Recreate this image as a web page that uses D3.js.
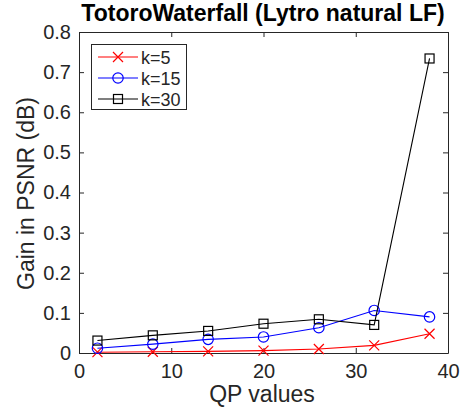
<!DOCTYPE html>
<html>
<head>
<meta charset="utf-8">
<script src="https://cdn.jsdelivr.net/npm/d3@7"></script>
<style>
  body { margin: 0; background: #fff; }
  text { font-family: "Liberation Sans", Arial, sans-serif; fill: #262626; }
</style>
</head>
<body>
<svg id="chart" width="463" height="411"></svg>
<script>
var qp = [2, 8, 14, 20, 26, 32, 38];
var k5 = [0.002, 0.003, 0.004, 0.006, 0.01, 0.019, 0.048];
var k15 = [0.012, 0.022, 0.034, 0.04, 0.063, 0.106, 0.09];
var k30 = [0.031, 0.044, 0.055, 0.073, 0.084, 0.07, 0.734];
var xTicks = [0, 10, 20, 30, 40];
var yTicks = [0, 0.1, 0.2, 0.3, 0.4, 0.5, 0.6, 0.7, 0.8];

var series = [
  { name: "k=5", values: k5, color: "#ff0000", marker: "x" },
  { name: "k=15", values: k15, color: "#0000ff", marker: "o" },
  { name: "k=30", values: k30, color: "#000000", marker: "s" }
];

var svg = d3.select("#chart");
var plotL = 79, plotR = 448, plotT = 32, plotB = 353;

var x = d3.scaleLinear().domain([0, 40]).range([plotL, plotR]);
var y = d3.scaleLinear().domain([0, 0.8]).range([plotB, plotT]);

// axes with inner ticks (box style)
var axisColor = "#262626";
function styleAxis(g) {
  g.select(".domain").attr("stroke", axisColor);
  g.selectAll(".tick line").attr("stroke", axisColor);
  g.selectAll(".tick text").style("font-size", "20px").attr("fill", axisColor);
}

svg.append("g")
   .attr("transform", "translate(0," + plotB + ")")
   .call(d3.axisBottom(x).tickValues(xTicks).tickSizeInner(-5).tickSizeOuter(0).tickPadding(11))
   .call(styleAxis);
svg.append("g")
   .attr("transform", "translate(0," + plotT + ")")
   .call(d3.axisTop(x).tickValues(xTicks).tickSizeInner(-5).tickSizeOuter(0).tickFormat(""))
   .call(styleAxis);
svg.append("g")
   .attr("transform", "translate(" + plotL + ",0)")
   .call(d3.axisLeft(y).tickValues(yTicks).tickSizeInner(-5).tickSizeOuter(0).tickPadding(8)
         .tickFormat(function(d){ return d === 0 ? "0" : d3.format(".1f")(d); }))
   .call(styleAxis);
svg.append("g")
   .attr("transform", "translate(" + plotR + ",0)")
   .call(d3.axisRight(y).tickValues(yTicks).tickSizeInner(-5).tickSizeOuter(0).tickFormat(""))
   .call(styleAxis);

function drawMarker(g, type, cx, cy, color) {
  if (type === "x") {
    g.append("path")
     .attr("d", "M" + (cx-5) + "," + (cy-5) + "L" + (cx+5) + "," + (cy+5) +
                "M" + (cx-5) + "," + (cy+5) + "L" + (cx+5) + "," + (cy-5))
     .attr("stroke", color).attr("stroke-width", 1.2).attr("fill", "none");
  } else if (type === "o") {
    g.append("circle").attr("cx", cx).attr("cy", cy).attr("r", 5.2)
     .attr("stroke", color).attr("stroke-width", 1.2).attr("fill", "none");
  } else {
    g.append("rect").attr("x", cx-4.5).attr("y", cy-4.5).attr("width", 9).attr("height", 9)
     .attr("stroke", color).attr("stroke-width", 1.2).attr("fill", "none");
  }
}

var line = d3.line().x(function(d){ return x(d[0]); }).y(function(d){ return y(d[1]); });

series.forEach(function(s) {
  var pts = qp.map(function(q, i){ return [q, s.values[i]]; });
  var g = svg.append("g");
  g.append("path").attr("d", line(pts))
   .attr("fill", "none").attr("stroke", s.color).attr("stroke-width", 1.1);
  pts.forEach(function(p) { drawMarker(g, s.marker, x(p[0]), y(p[1]), s.color); });
});

// legend
var legend = svg.append("g");
legend.append("rect").attr("x", 91.5).attr("y", 44.5).attr("width", 95).attr("height", 65)
      .attr("fill", "#fff").attr("stroke", axisColor).attr("stroke-width", 1);
series.forEach(function(s, i) {
  var ly = 57 + i * 21;
  legend.append("line").attr("x1", 98).attr("x2", 138).attr("y1", ly).attr("y2", ly)
        .attr("stroke", s.color).attr("stroke-width", 1.1);
  drawMarker(legend, s.marker, 118, ly, s.color);
  legend.append("text").attr("x", 141).attr("y", ly + 6.5)
        .style("font-size", "18px").text(s.name);
});

// title and labels
svg.append("text").attr("x", 263).attr("y", 21).attr("text-anchor", "middle")
   .style("font-size", "23px").style("font-weight", "bold")
   .style("fill", "#000").text("TotoroWaterfall (Lytro natural LF)");
svg.append("text").attr("x", 262).attr("y", 402).attr("text-anchor", "middle")
   .style("font-size", "23px").text("QP values");
svg.append("text").attr("transform", "translate(34," + 193.5 + ") rotate(-90)")
   .attr("text-anchor", "middle").style("font-size", "23px").text("Gain in PSNR (dB)");
</script>
</body>
</html>
